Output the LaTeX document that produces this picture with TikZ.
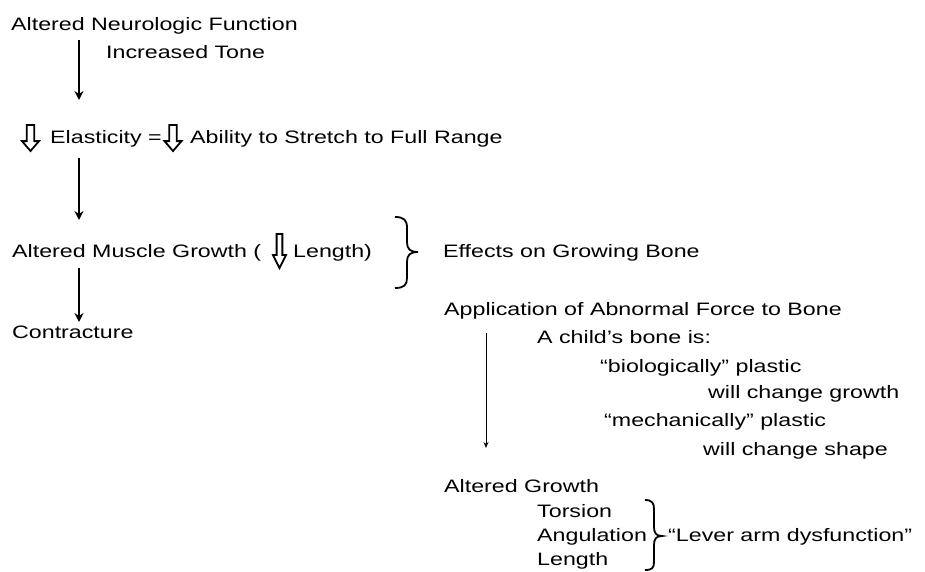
\documentclass[tikz,border=0pt]{standalone}
\usepackage{fontspec}
\setmainfont{Liberation Sans}[FakeStretch=1.29]
\usetikzlibrary{arrows.meta}
\begin{document}
\begin{tikzpicture}[x=1pt,y=-1pt,
  txt/.style={anchor=base west, inner sep=0pt, font=\fontsize{18}{22}\selectfont},
  thickarrow/.style={line width=2.4pt,-{Stealth[length=9pt,width=9pt]}},
  thinarrow/.style={line width=1pt,-{Stealth[length=6pt,width=5pt]}},
  hollow/.style={draw,line width=1.8pt,fill=white,line join=miter},
  bracestyle/.style={line width=1.8pt},
  hdown/.pic={\path[hollow] (-0.22,0) -- (0.22,0) -- (0.22,0.62) -- (0.5,0.62) -- (0,1) -- (-0.5,0.62) -- (-0.22,0.62) -- cycle;}]
\useasboundingbox (0,0) rectangle (925,572);
% left column
\node[txt] (anf) at (11,31) {Altered Neurologic Function};
\node[txt] (tone) at (106,59) {Increased Tone};
\pic[xscale=17,yscale=26] at (30.5,125) {hdown};
\node[txt] (elas) at (50,144) {Elasticity =};
\pic[xscale=17,yscale=26] at (173,125) {hdown};
\node[txt] (abil) at (190,144) {Ability to Stretch to Full Range};
\node[txt] (amg) at (12,257) {Altered Muscle Growth (};
\pic[xscale=13,yscale=34] at (279.5,234) {hdown};
\node[txt] (len) at (293,257) {Length)};
\node[txt] (con) at (12,338) {Contracture};
\coordinate (a1s) at (79,40);  \coordinate (a1e) at (79,100);
\coordinate (a2s) at (79,158); \coordinate (a2e) at (79,220);
\coordinate (a3s) at (79,268); \coordinate (a3e) at (79,322);
\draw[thickarrow] (a1s) -- (a1e);
\draw[thickarrow] (a2s) -- (a2e);
\draw[thickarrow] (a3s) -- (a3e);
% brace 1
\draw[bracestyle] (395,217) .. controls (404,217) and (407,220) .. (407,228) -- (407,242)
  .. controls (407,249) and (410,252) .. (418,252)
  .. controls (410,252) and (407,255) .. (407,262) -- (407,278)
  .. controls (407,285) and (404,288) .. (395,288);
% right column
\node[txt] (eff) at (443,257) {Effects on Growing Bone};
\node[txt] (app) at (444,315) {Application of Abnormal Force to Bone};
\node[txt] (child) at (537,343) {A child's bone is:};
\node[txt] (bio) at (600,372) {“biologically” plastic};
\node[txt] (wcg) at (708,398) {will change growth};
\node[txt] (mech) at (604,426) {“mechanically” plastic};
\node[txt] (wcs) at (703,455) {will change shape};
\coordinate (a4s) at (486,333); \coordinate (a4e) at (486,448);
\draw[thinarrow] (a4s) -- (a4e);
\node[txt] (ag) at (444,492) {Altered Growth};
\node[txt] (tor) at (537,517) {Torsion};
\node[txt] (ang) at (537,541) {Angulation};
\node[txt] (lng) at (537,565) {Length};
% brace 2
\draw[bracestyle] (645,500) .. controls (652,500) and (654,503) .. (654,509) -- (654,527)
  .. controls (654,533) and (656,536) .. (662,536)
  .. controls (656,536) and (654,539) .. (654,545) -- (654,562)
  .. controls (654,568) and (652,570) .. (645,570);
\node[txt] (lever) at (668,541) {“Lever arm dysfunction”};
\end{tikzpicture}
\end{document}
